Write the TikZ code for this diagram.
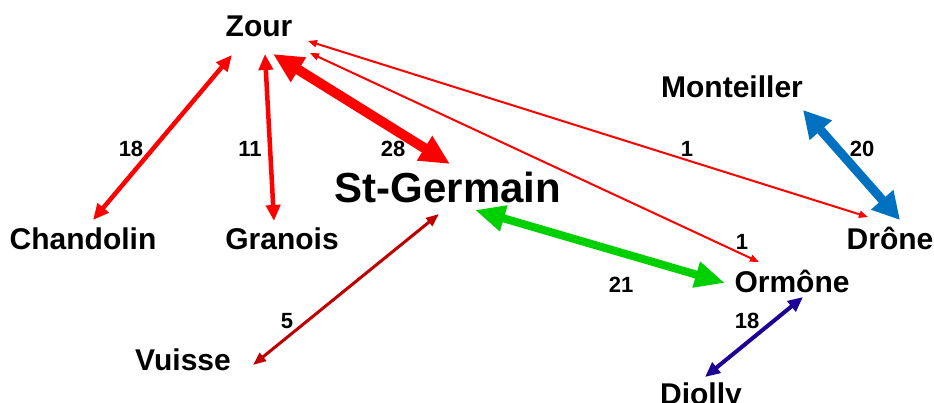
\documentclass[tikz,border=0pt]{standalone}
\usepackage{fontspec}
\setmainfont{Liberation Sans}
\usetikzlibrary{arrows.meta,calc}

\definecolor{linkred}{RGB}{255,0,0}
\definecolor{linkdarkred}{RGB}{192,0,0}
\definecolor{linkblue}{RGB}{0,112,192}
\definecolor{linkgreen}{RGB}{0,208,0}
\definecolor{linknavy}{RGB}{30,0,150}

\tikzset{
  place/.style={anchor=base, inner sep=0pt, font=\fontsize{30}{34}\selectfont\bfseries},
  bigplace/.style={anchor=base, inner sep=0pt, font=\fontsize{42}{48}\selectfont\bfseries},
  count/.style={anchor=base, inner sep=0pt, font=\fontsize{22}{26}\selectfont\bfseries},
  thinlink/.style={draw=linkred, line width=2, {Triangle[length=9,width=7]}-{Triangle[length=9,width=7]}},
  medlink/.style={draw=linkred, line width=4.5, {Triangle[length=16,width=14]}-{Triangle[length=16,width=14]}},
  heavylink/.style={draw=linkred, line width=10, {Triangle[length=30,width=27]}-{Triangle[length=30,width=27]}},
  bluelink/.style={draw=linkblue, line width=9, {Triangle[length=27,width=28]}-{Triangle[length=27,width=28]}},
  greenlink/.style={draw=linkgreen, line width=8, {Triangle[length=30,width=25]}-{Triangle[length=30,width=25]}},
  darkredlink/.style={draw=linkdarkred, line width=3, {Triangle[length=13,width=10]}-{Triangle[length=13,width=10]}},
  navylink/.style={draw=linknavy, line width=4, {Triangle[length=15,width=13]}-{Triangle[length=15,width=13]}},
}

\begin{document}
\begin{tikzpicture}[x=1pt,y=-1pt]
  \useasboundingbox (0,0) rectangle (934,403);

  % places
  \node[place]    (zour)  at (259,37)  {Zour};
  \node[place]    (mont)  at (732,98)  {Monteiller};
  \node[bigplace] (stg)   at (448,203) {St-Germain};
  \node[place]    (chand) at (83,250)  {Chandolin};
  \node[place]    (gran)  at (282,250) {Granois};
  \node[place]    (drone) at (890,250) {Drône};
  \node[place]    (orm)   at (792,293) {Ormône};
  \node[place]    (vuis)  at (183,370) {Vuisse};
  \node[place]    (diol)  at (701,404) {Diolly};

  % links
  \draw[medlink]     ($(zour.base)+(-27,18)$) -- ($(chand.base)+(10,-30)$);
  \draw[medlink]     ($(zour.base)+(6,17)$)   -- ($(gran.base)+(-8,-29)$);
  \draw[heavylink]   ($(zour.base)+(14,17)$)  -- ($(stg.base)+(2,-39)$);
  \draw[thinlink]    ($(zour.base)+(49,4)$)   -- ($(drone.base)+(-22,-33)$);
  \draw[thinlink]    ($(zour.base)+(51,16)$)  -- ($(orm.base)+(-33,-31)$);
  \draw[bluelink]    ($(mont.base)+(71,12)$)  -- ($(drone.base)+(10,-30)$);
  \draw[greenlink]   ($(stg.base)+(27,7)$)    -- ($(orm.base)+(-67,-10)$);
  \draw[darkredlink] ($(stg.base)+(-9,11)$)   -- ($(vuis.base)+(70,-5)$);
  \draw[navylink]    ($(orm.base)+(11,4)$)    -- ($(diol.base)+(4,-27)$);

  % link counts
  \node[count] (c18a) at (131,157) {18};
  \node[count] (c11)  at (250,157) {11};
  \node[count] (c28)  at (393,157) {28};
  \node[count] (c1a)  at (687,157) {1};
  \node[count] (c20)  at (862,157) {20};
  \node[count] (c1b)  at (742,250) {1};
  \node[count] (c21)  at (621,292) {21};
  \node[count] (c18b) at (747,328) {18};
  \node[count] (c5)   at (287,328) {5};
\end{tikzpicture}
\end{document}
